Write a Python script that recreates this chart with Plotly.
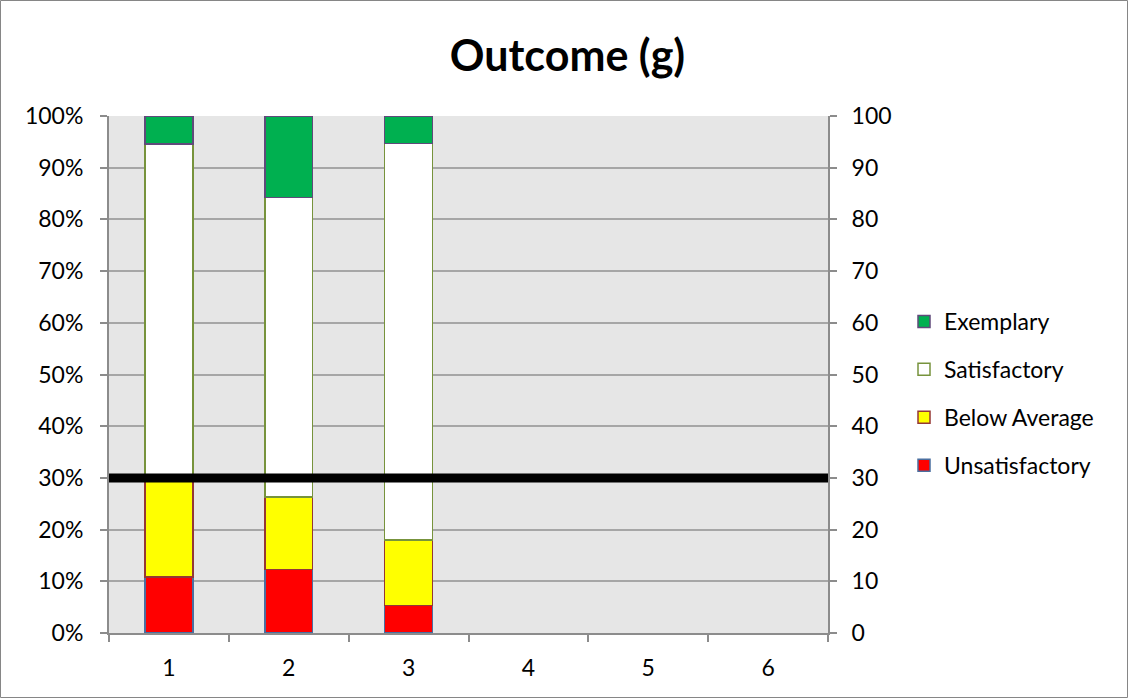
import plotly.graph_objects as go

# Outcome (g): share of students in each rating band, per assessment
categories = ["1", "2", "3", "4", "5", "6"]
unsatisfactory = [10.8, 12.3, 5.3, None, None, None]
below_average = [18.9, 14.0, 12.7, None, None, None]
satisfactory = [64.9, 57.9, 76.7, None, None, None]
exemplary = [5.4, 15.8, 5.3, None, None, None]
target_line = 30

left_ticks = [0, 10, 20, 30, 40, 50, 60, 70, 80, 90, 100]
left_labels = [f"{v}%" for v in left_ticks]
right_ticks = [0, 10, 20, 30, 40, 50, 60, 70, 80, 90, 100]

W, H = 1128, 698
ml, mr, mt, mb = 109, 300, 116, 65
pw, ph = W - ml - mr, H - mt - mb

FONT = "Lato, Carlito, Calibri, sans-serif"
TICK = 23
GRAY = "#8c8c8c"

series = [
    ("Unsatisfactory", unsatisfactory, "#ff0000", "#4a6fa0", 4),
    ("Below Average", below_average, "#ffff00", "#953735", 3),
    ("Satisfactory", satisfactory, "#ffffff", "#77933c", 2),
    ("Exemplary", exemplary, "#00b050", "#604a7b", 1),
]

fig = go.Figure()
for name, vals, fill, edge, rank in series:
    fig.add_trace(go.Bar(
        x=categories, y=vals, name=name,
        marker=dict(color=fill, line=dict(color=edge, width=1.5)),
        legendgroup=name, legendrank=rank,
    ))

# empty trace so the secondary axis is laid out
fig.add_trace(go.Scatter(x=[categories[0]], y=[None], yaxis="y2",
                         mode="lines", showlegend=False, hoverinfo="skip"))

fig.add_shape(type="line", xref="paper", x0=0, x1=1, yref="y2",
              y0=target_line, y1=target_line,
              line=dict(color="#000000", width=9), layer="above")

# outer chart border
fig.add_shape(type="rect", xref="paper", yref="paper",
              x0=(-ml + 0.5) / pw, x1=(W - ml - 0.5) / pw,
              y0=(-mb + 0.5) / ph, y1=(H - mb - 0.5) / ph,
              line=dict(color="#868686", width=1), fillcolor="rgba(0,0,0,0)")

fig.update_layout(
    width=W, height=H,
    margin=dict(l=ml, r=mr, t=mt, b=mb, pad=0),
    barmode="stack", bargap=0.6,
    paper_bgcolor="#ffffff", plot_bgcolor="#e6e6e6",
    font=dict(family=FONT, size=TICK, color="#000000"),
    title=dict(text="<b>Outcome (g)</b>", xref="container", x=567.5 / W,
               xanchor="center", yref="container", y=1 - 56 / H,
               yanchor="middle",
               font=dict(family=FONT, size=43, color="#000000")),
    xaxis=dict(type="category", categoryorder="array", categoryarray=categories,
               range=[-0.5, 5.5], tickson="boundaries", ticks="outside",
               ticklen=7, tickcolor=GRAY, tickwidth=1.5, showline=True,
               linecolor=GRAY, linewidth=2, showgrid=False,
               ticklabelstandoff=13, tickfont=dict(size=TICK)),
    yaxis=dict(range=[0, 100], tickvals=left_ticks, ticktext=left_labels,
               ticks="outside", ticklen=7, tickcolor=GRAY, tickwidth=1.5,
               showline=True, linecolor=GRAY, linewidth=2,
               showgrid=True, gridcolor="#a6a6a6", gridwidth=1.5,
               zeroline=False, ticklabelstandoff=12, tickfont=dict(size=TICK)),
    yaxis2=dict(range=[0, 100], tickvals=right_ticks, overlaying="y",
                side="right", anchor="x", ticks="outside", ticklen=7,
                tickcolor=GRAY, tickwidth=1.5, showline=True, linecolor=GRAY,
                linewidth=2, showgrid=False, zeroline=False,
                ticklabelstandoff=10, tickfont=dict(size=TICK)),
    legend=dict(x=(904 - ml) / pw, y=(633 - 393.5) / ph, xanchor="left",
                yanchor="middle", traceorder="grouped", tracegroupgap=15,
                font=dict(family=FONT, size=TICK), bgcolor="rgba(0,0,0,0)"),
    showlegend=True,
)

fig.write_html("out.html")
